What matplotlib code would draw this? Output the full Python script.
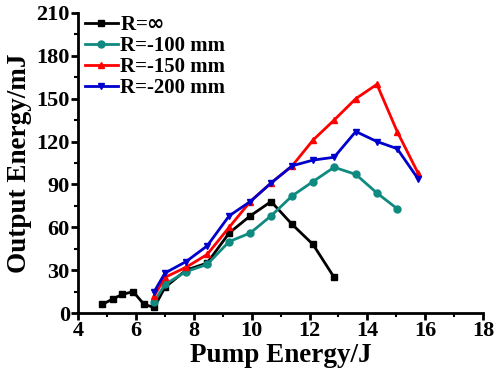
import matplotlib
matplotlib.use("Agg")
import matplotlib.pyplot as plt
from matplotlib.ticker import MultipleLocator

plt.rcParams['font.family'] = ['Liberation Serif', 'DejaVu Serif']
plt.rcParams['font.weight'] = 'bold'

# pump energy (J) for each curve
x_inf = [4.83, 5.21, 5.52, 5.90, 6.28, 6.63, 7.0, 7.73, 8.46, 9.22, 9.95, 10.67, 11.4, 12.12, 12.85]
y_inf = [6, 10, 13, 15, 6, 4, 18, 30, 35, 56, 68, 78, 62, 48, 25]

x_100 = [6.63, 7.0, 7.73, 8.46, 9.22, 9.95, 10.67, 11.4, 12.12, 12.85, 13.6, 14.33, 15.03]
y_100 = [8, 20, 29, 34, 50, 56, 68, 82, 92, 102, 97, 84, 73]

x_150 = [6.63, 7.0, 7.73, 8.46, 9.22, 9.95, 10.67, 11.4, 12.12, 12.85, 13.6, 14.33, 15.03, 15.75]
y_150 = [12, 25, 32, 41, 60, 78, 91, 103, 121, 135, 150, 160, 127, 98]

x_200 = [6.63, 7.0, 7.73, 8.46, 9.22, 9.95, 10.67, 11.4, 12.12, 12.85, 13.6, 14.33, 15.03, 15.75]
y_200 = [15, 28, 36, 47, 68, 78, 91, 103, 107, 109, 127, 120, 115, 94]

fig = plt.figure(figsize=(4.98, 3.79), dpi=100)
ax = fig.add_axes([0.157, 0.174, 0.813, 0.792])

ax.plot(x_inf, y_inf, color='black', marker='s', ms=5, lw=2, label=r'R=$\infty$')
ax.plot(x_100, y_100, color='#0f8a80', marker='o', ms=5, lw=2, label='R=-100 mm')
ax.plot(x_150, y_150, color='#ff0000', marker='^', ms=5, lw=2, label='R=-150 mm')
ax.plot(x_200, y_200, color='#0000cc', marker='v', ms=5, lw=2, label='R=-200 mm')

ax.set_xlim(4, 18)
ax.set_ylim(0, 210)
ax.xaxis.set_major_locator(MultipleLocator(2))
ax.xaxis.set_minor_locator(MultipleLocator(1))
ax.yaxis.set_major_locator(MultipleLocator(30))
ax.yaxis.set_minor_locator(MultipleLocator(15))

for s in ['top', 'right']:
    ax.spines[s].set_visible(False)
for s in ['left', 'bottom']:
    ax.spines[s].set_linewidth(2)

ax.tick_params(which='major', direction='out', length=5, width=2, labelsize=16, pad=1)
ax.tick_params(which='minor', direction='out', length=3, width=1.5)

ax.set_xlabel('Pump Energy/J', fontsize=19.5, fontweight='bold', labelpad=1)
ax.set_ylabel('Output Energy/mJ', fontsize=19.5, fontweight='bold', labelpad=3)

ax.legend(loc='upper left', bbox_to_anchor=(-0.015, 1.035), frameon=False,
          handlelength=1.6, handletextpad=0.1, labelspacing=0.05, borderaxespad=0.2,
          prop={'size': 15, 'weight': 'bold'})

fig.savefig('out.png', dpi=100)
